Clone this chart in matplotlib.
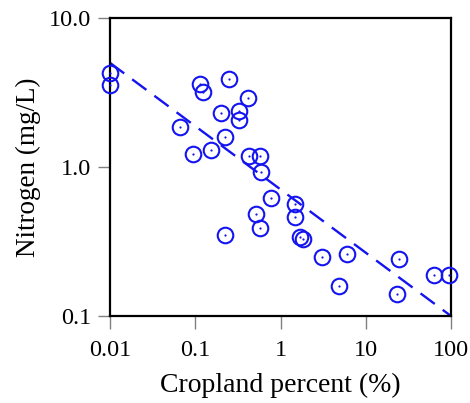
import matplotlib
matplotlib.use("Agg")
import matplotlib.pyplot as plt
from matplotlib.ticker import FixedLocator, FixedFormatter, NullLocator

plt.rcParams['font.family'] = ['Liberation Serif', 'DejaVu Serif']

cropland = [0.01, 0.01, 0.114, 0.122, 0.247, 0.416, 0.199, 0.324, 0.324, 0.0663,
            0.225, 0.0949, 0.152, 0.424, 0.575, 0.586, 0.774, 0.512, 0.570, 0.225,
            1.48, 1.48, 1.69, 1.85, 3.07, 5.98, 4.90, 24.8, 23.3, 62.7, 94.0]
nitrogen = [4.29, 3.55, 3.59, 3.20, 3.88, 2.89, 2.29, 2.38, 2.07, 1.86,
            1.60, 1.22, 1.30, 1.19, 1.19, 0.92, 0.62, 0.48, 0.39, 0.35,
            0.565, 0.46, 0.337, 0.327, 0.249, 0.261, 0.159, 0.24, 0.14, 0.189, 0.189]

fit_x = [0.01, 100]
fit_y = [5.0, 0.1]

x_ticks = [0.01, 0.1, 1, 10, 100]
x_labels = ["0.01", "0.1", "1", "10", "100"]
y_ticks = [0.1, 1, 10]
y_labels = ["0.1", "1.0", "10.0"]

blue = '#1414f0'

fig = plt.figure(figsize=(4.70, 4.03), dpi=100)
ax = fig.add_axes([110/470, 1-316/403, (451-110)/470, (316-18)/403])

ax.plot(fit_x, fit_y, color=blue, lw=1.7, dashes=(7.5, 4.2), zorder=2)
ax.plot(cropland, nitrogen, linestyle='none', marker='o', markersize=11.2,
        markerfacecolor='none', markeredgecolor=blue, markeredgewidth=1.5,
        clip_on=False, zorder=3)
ax.plot(cropland, nitrogen, linestyle='none', marker='o', markersize=1.6,
        markerfacecolor=blue, markeredgecolor='none', clip_on=False, zorder=3)

ax.set_xscale('log')
ax.set_yscale('log')
ax.set_xlim(0.01, 100)
ax.set_ylim(0.1, 10)

ax.xaxis.set_major_locator(FixedLocator(x_ticks))
ax.xaxis.set_major_formatter(FixedFormatter(x_labels))
ax.xaxis.set_minor_locator(NullLocator())
ax.yaxis.set_major_locator(FixedLocator(y_ticks))
ax.yaxis.set_major_formatter(FixedFormatter(y_labels))
ax.yaxis.set_minor_locator(NullLocator())

for s in ax.spines.values():
    s.set_linewidth(1.6)
    s.set_color('black')

ax.tick_params(axis='both', which='major', direction='out', length=9,
               width=1.0, color='#808080', labelsize=17.5)
ax.tick_params(axis='x', pad=8)
ax.tick_params(axis='y', pad=4.5)

ax.set_xlabel('Cropland percent (%)', fontsize=20, labelpad=9)
ax.set_ylabel('Nitrogen (mg/L)', fontsize=19.5, labelpad=6)

fig.savefig('out.png', dpi=100)
